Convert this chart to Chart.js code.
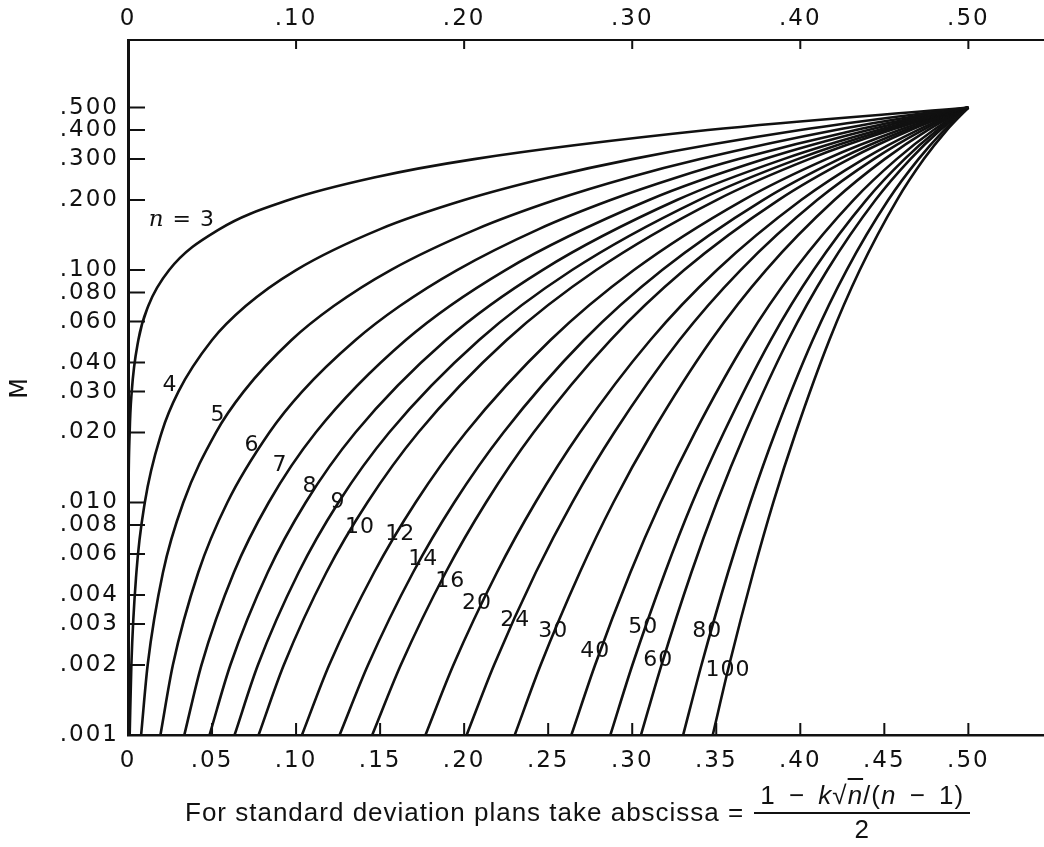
<!DOCTYPE html>
<html>
<head>
<meta charset="utf-8">
<title>M chart</title>
<script src="https://cdn.jsdelivr.net/npm/chart.js@4.4.0/dist/chart.umd.min.js"></script>
<style>
  html, body { margin: 0; padding: 0; background: #fff; }
  #wrap { position: relative; width: 1044px; height: 847px; }
  #caption {
    position: absolute; left: 185px; top: 780px;
    font: 26px "Liberation Sans", Arial, sans-serif; letter-spacing: 1px; color: #111;
    display: flex; align-items: center; white-space: nowrap;
  }
  .frac { display: inline-flex; flex-direction: column; align-items: center; margin-left: 10px; }
  .frac .num { border-bottom: 2px solid #111; padding: 0 6px 1px; word-spacing: 5px; }
  .frac .den { padding-top: 0; }
  .ov { text-decoration: overline; }
</style>
</head>
<body>
<div id="wrap">
  <canvas id="chart" width="1044" height="847"></canvas>
  <div id="caption">
    <span>For standard deviation plans take abscissa =</span>
    <span class="frac">
      <span class="num">1 − <i>k</i>√<span class="ov"><i>n</i></span>/(<i>n</i> − 1)</span>
      <span class="den">2</span>
    </span>
  </div>
</div>
<script>
// sample sizes, one curve each
const sampleSizes = [3, 4, 5, 6, 7, 8, 9, 10, 12, 14, 16, 20, 24, 30, 40, 50, 60, 80, 100];

// M values where each curve was read
const mLevels = [0.001, 0.002, 0.005, 0.01, 0.02, 0.03, 0.05, 0.07, 0.1, 0.15, 0.2, 0.25, 0.3, 0.4, 0.5];

// abscissa of each curve at those M values (null = not read)
const xAtLevel = [
  [0.0000025, 0.00001, 0.000062, 0.00025, 0.00099, 0.00222, 0.00616, 0.01204, 0.0245, 0.0545, 0.0955, 0.1464, 0.206, 0.345, 0.5],
  [0.001, 0.002, 0.005, 0.01, 0.02, 0.03, 0.05, 0.07, 0.1, 0.15, 0.2, 0.25, 0.3, 0.4, 0.5],
  [0.0078, 0.0117, 0.0208, 0.0329, 0.0523, 0.0688, 0.0973, 0.1224, 0.1563, 0.2074, 0.254, 0.298, 0.3404, 0.421, 0.5],
  [0.0193, 0.0267, 0.0418, 0.0591, 0.0841, 0.1036, 0.1354, 0.1617, 0.1958, 0.2444, 0.2871, 0.3264, 0.3633, 0.433, 0.5],
  [0.0335, 0.0437, 0.063, 0.0837, 0.1117, null, 0.1653, null, 0.2246, null, 0.310, null, 0.3786, 0.4405, 0.5],
  [0.0485, 0.0609, 0.0831, 0.1057, 0.1353, null, 0.1892, null, 0.2466, null, 0.3266, null, 0.390, 0.4465, 0.5],
  [0.0634, 0.0773, 0.1015, 0.1252, 0.1554, null, 0.2089, null, 0.2642, null, 0.3396, null, 0.3984, 0.4505, 0.5],
  [0.0777, 0.0927, 0.118, 0.1424, 0.1727, null, 0.2253, null, 0.2786, null, 0.3501, null, 0.4052, 0.4539, 0.5],
  [0.1035, 0.1197, 0.1464, 0.1711, 0.201, null, 0.2514, null, 0.301, null, 0.3661, null, 0.4155, 0.459, 0.5],
  [0.1259, 0.1428, 0.1696, 0.1941, 0.2234, null, 0.2713, null, 0.3178, null, 0.3778, null, 0.4231, 0.4627, 0.5],
  [0.1453, 0.1623, 0.189, 0.213, 0.2413, null, 0.2871, null, 0.3309, null, 0.387, null, 0.429, 0.4656, 0.5],
  [0.177, 0.1936, 0.2195, 0.2424, 0.2689, null, 0.3108, null, 0.3504, null, 0.4005, null, 0.4376, 0.4698, 0.5],
  [0.2015, 0.2178, 0.2426, 0.2643, 0.2893, null, 0.3281, null, 0.3645, null, 0.41, null, 0.4437, 0.4728, 0.5],
  [0.2301, 0.2455, 0.2688, 0.2888, 0.3118, null, 0.347, null, 0.3796, null, 0.4203, null, 0.4502, 0.4758, 0.5],
  [0.2638, 0.2779, 0.2989, 0.3169, 0.3373, null, 0.3681, null, 0.3965, null, 0.4316, null, 0.4573, 0.4793, 0.5],
  [0.287, 0.3001, 0.3195, 0.3358, 0.3545, null, 0.3824, null, 0.4079, null, 0.4392, null, 0.462, 0.4816, 0.5],
  [0.3052, 0.3174, 0.3352, 0.3503, 0.3673, null, 0.3928, null, 0.4161, null, 0.4447, null, 0.4655, 0.4833, 0.5],
  [0.3303, 0.3412, 0.357, 0.3703, 0.3851, null, 0.4074, null, 0.4276, null, 0.4523, null, 0.4703, 0.4856, 0.5],
  [0.3479, 0.3577, 0.372, 0.3839, 0.3973, null, 0.4173, null, 0.4354, null, 0.4575, null, 0.4735, 0.4872, 0.5]
];

// axis ticks
const bottomTicks = [0, 0.05, 0.1, 0.15, 0.2, 0.25, 0.3, 0.35, 0.4, 0.45, 0.5];
const topTicks = [0, 0.1, 0.2, 0.3, 0.4, 0.5];
const yTicks = [0.001, 0.002, 0.003, 0.004, 0.006, 0.008, 0.01, 0.02, 0.03, 0.04, 0.06, 0.08, 0.1, 0.2, 0.3, 0.4, 0.5];

// curve labels (text, abscissa, M)
const labelText = ['3', '4', '5', '6', '7', '8', '9', '10', '12', '14', '16', '20', '24', '30', '40', '50', '60', '80', '100'];
const labelX = [0.032, 0.025, 0.0536, 0.0738, 0.0905, 0.1083, 0.125, 0.138, 0.162, 0.1756, 0.1917, 0.2077, 0.2304, 0.253, 0.278, 0.3065, 0.3155, 0.3446, 0.357];
const labelM = [0.164, 0.032, 0.0238, 0.0177, 0.0145, 0.0117, 0.01, 0.0078, 0.0073, 0.0057, 0.0046, 0.0037, 0.0031, 0.0028, 0.0023, 0.0029, 0.0021, 0.0028, 0.0019];

const ink = '#111';
const fontFam = '"DejaVu Sans", "Liberation Sans", sans-serif';

const fmtX = v => v === 0 ? '0' : v.toFixed(2).slice(1);

const datasets = sampleSizes.map((n, i) => ({
  label: 'n = ' + n,
  data: mLevels.map((m, j) => xAtLevel[i][j] == null ? null : { x: xAtLevel[i][j], y: m }).filter(p => p),
  borderColor: ink,
  borderWidth: 2.6,
  pointRadius: 0,
  fill: false,
  cubicInterpolationMode: 'monotone'
}));

// wider letter spacing for the axis numbers, like the printed chart
const spacing = {
  id: 'spacing',
  beforeDraw(chart) { chart.ctx.letterSpacing = '2px'; }
};

// tick marks drawn inside the plot, plus the n labels
const extras = {
  id: 'extras',
  afterDraw(chart) {
    const { ctx, chartArea: a, scales } = chart;
    ctx.save();
    ctx.strokeStyle = ink;
    ctx.lineWidth = 2;
    ctx.beginPath();
    yTicks.forEach(v => {
      const y = scales.y.getPixelForValue(v);
      ctx.moveTo(a.left, y); ctx.lineTo(a.left + 17, y);
    });
    bottomTicks.forEach(v => {
      const x = scales.x.getPixelForValue(v);
      ctx.moveTo(x, a.bottom); ctx.lineTo(x, a.bottom - 12);
    });
    topTicks.forEach(v => {
      const x = scales.x2.getPixelForValue(v);
      ctx.moveTo(x, a.top); ctx.lineTo(x, a.top + 9);
    });
    ctx.stroke();

    ctx.letterSpacing = '1px';
    ctx.fillStyle = ink;
    ctx.textBaseline = 'middle';
    labelText.forEach((t, i) => {
      const x = scales.x.getPixelForValue(labelX[i]);
      const y = scales.y.getPixelForValue(labelM[i]);
      ctx.font = '22px ' + fontFam;
      if (i === 0) {
        const rest = ' = ' + t;
        const wRest = ctx.measureText(rest).width;
        ctx.font = 'italic 23px "DejaVu Serif", "Liberation Serif", serif';
        const wN = ctx.measureText('n').width;
        const x0 = x - (wN + wRest) / 2;
        ctx.textAlign = 'left';
        ctx.fillText('n', x0, y);
        ctx.font = '22px ' + fontFam;
        ctx.fillText(rest, x0 + wN, y);
      } else {
        ctx.textAlign = 'center';
        ctx.fillText(t, x, y);
      }
    });
    ctx.restore();
    ctx.letterSpacing = '0px';
  }
};

Chart.defaults.font.family = fontFam;
Chart.defaults.color = ink;

new Chart(document.getElementById('chart'), {
  type: 'line',
  data: { datasets },
  options: {
    responsive: false,
    animation: false,
    layout: { padding: 0 },
    plugins: { legend: { display: false }, tooltip: { enabled: false } },
    scales: {
      x: {
        type: 'linear', position: 'bottom', min: 0, max: 0.545,
        grid: { display: false, drawTicks: false },
        border: { display: true, color: ink, width: 2.5 },
        afterBuildTicks: s => { s.ticks = bottomTicks.map(v => ({ value: v })); },
        afterFit: s => { s.height = 112; },
        ticks: { autoSkip: false, maxRotation: 0, padding: 12, font: { size: 23 }, callback: v => fmtX(v) }
      },
      x2: {
        type: 'linear', position: 'top', min: 0, max: 0.545,
        grid: { display: false, drawTicks: false },
        border: { display: true, color: ink, width: 2 },
        afterBuildTicks: s => { s.ticks = topTicks.map(v => ({ value: v })); },
        afterFit: s => { s.height = 40; },
        ticks: { autoSkip: false, maxRotation: 0, padding: 7, font: { size: 23 }, callback: v => fmtX(v) }
      },
      y: {
        type: 'logarithmic', position: 'left', min: 0.001, max: 0.976,
        grid: { display: false, drawTicks: false },
        border: { display: true, color: ink, width: 3 },
        afterBuildTicks: s => { s.ticks = yTicks.map(v => ({ value: v })); },
        afterFit: s => { s.width = 128; },
        title: { display: true, text: 'M', font: { size: 24 }, padding: { top: 6, bottom: 0 } },
        ticks: { autoSkip: false, padding: 9, font: { size: 23 }, callback: v => v.toFixed(3).slice(1) }
      }
    }
  },
  plugins: [spacing, extras]
});
</script>
</body>
</html>
